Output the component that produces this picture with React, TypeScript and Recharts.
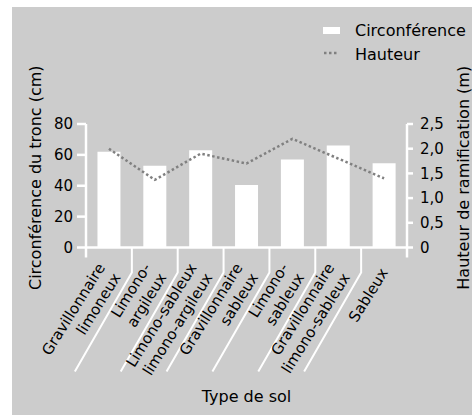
import React from 'react';
import { ComposedChart, Bar, Line, XAxis, YAxis, Legend, Label } from 'recharts';

const categories = [
  'Gravillonnaire\nlimoneux',
  'Limono-\nargileux',
  'Limono-sableux\nlimono-argileux',
  'Gravillonnaire\nsableux',
  'Limono-\nsableux',
  'Gravillonnaire\nlimono-sableux',
  'Sableux',
];
const circonference = [62, 53, 63, 40.5, 57, 66, 54.5];
const hauteur = [2.0, 1.37, 1.9, 1.7, 2.2, 1.8, 1.4];
const leftTicks = [0, 20, 40, 60, 80];
const rightTicks = [0, 0.5, 1, 1.5, 2, 2.5];

const data = categories.map((c, i) => ({ sol: c, circ: circonference[i], haut: hauteur[i] }));

const FONT = 'DejaVu Sans';
const WHITE = '#ffffff';

function CategoryTick(props: any) {
  const { x, y, payload, index, visibleTicksCount, width } = props;
  const half = payload && payload.offset ? payload.offset : width / visibleTicksCount / 2;
  const lines = String(payload.value).split('\n');
  const bx = x - half;
  const L = 18.5;
  const ay = y + 22;
  const first = -((lines.length - 1) / 2) * L + 5.25;
  return (
    <g>
      {index === 0 ? (
        <line x1={bx} y1={y} x2={bx} y2={y + 10} stroke={WHITE} strokeWidth={2.5} />
      ) : (
        <polyline
          points={`${bx},${y} ${bx},${y + 25} ${bx - 57},${y + 124}`}
          fill="none"
          stroke={WHITE}
          strokeWidth={2}
        />
      )}
      {index === visibleTicksCount - 1 && (
        <line x1={x + half} y1={y} x2={x + half} y2={y + 10} stroke={WHITE} strokeWidth={2.5} />
      )}
      <text
        x={x}
        y={ay}
        transform={`rotate(-58 ${x} ${ay})`}
        textAnchor="end"
        fontSize={15}
        fontFamily={FONT}
        fill="#000"
      >
        {lines.map((l, i) => (
          <tspan key={i} x={x} dy={i === 0 ? first : L}>
            {l}
          </tspan>
        ))}
      </text>
    </g>
  );
}

function LegendContent() {
  return (
    <svg width={154} height={50} style={{ display: 'block', overflow: 'visible' }}>
      <rect x={5} y={9} width={17} height={7} fill={WHITE} />
      <text x={37} y={18} fontSize={16} fontFamily={FONT} fill="#000">Circonférence</text>
      <line x1={6} y1={35} x2={21} y2={35} stroke="#808080" strokeWidth={2.5} strokeDasharray="2.5 2.5" />
      <text x={37} y={42} fontSize={16} fontFamily={FONT} fill="#000">Hauteur</text>
    </svg>
  );
}

const fmtRight = (v: number) => (v === 0 ? '0' : v.toFixed(1).replace('.', ','));

export default function App() {
  return (
    <div style={{ position: 'absolute', left: 0, top: 0, width: 472, height: 415, overflow: 'hidden' }}>
      <div style={{ position: 'absolute', left: 12, top: 7, width: 460, height: 408, background: '#cccccc' }} />
      <div style={{ position: 'absolute', left: 0, top: 0 }}>
        <ComposedChart
          width={472}
          height={415}
          data={data}
          margin={{ top: 124, right: 0, bottom: 0, left: 0 }}
          barCategoryGap="25%"
        >
          <XAxis
            dataKey="sol"
            interval={0}
            height={167.5}
            tickSize={0}
            tickMargin={0}
            tickLine={false}
            axisLine={{ stroke: WHITE, strokeWidth: 2.5 }}
            tick={<CategoryTick />}
          >
            <Label
              content={(p: any) => {
                const vb = p.viewBox || { x: 86, y: 247.5, width: 321 };
                return (
                  <text x={vb.x + vb.width / 2} y={vb.y + 154.5} textAnchor="middle" fontSize={16} fontFamily={FONT} fill="#000">
                    Type de sol
                  </text>
                );
              }}
            />
          </XAxis>
          <YAxis
            yAxisId="left"
            orientation="left"
            width={86}
            domain={[0, 80]}
            ticks={leftTicks}
            interval={0}
            tickSize={9}
            tickMargin={4}
            tick={{ fill: '#000', fontSize: 15, fontFamily: FONT }}
            tickLine={{ stroke: WHITE, strokeWidth: 2.5 }}
            axisLine={{ stroke: WHITE, strokeWidth: 2.5 }}
          >
            <Label
              content={(p: any) => {
                const vb = p.viewBox || { x: 0, y: 124, width: 86, height: 123.5 };
                const cx = vb.x + 35;
                const cy = vb.y + vb.height / 2 - 8;
                return (
                  <text x={cx} y={cy} transform={`rotate(-90 ${cx} ${cy})`} textAnchor="middle" dominantBaseline="central" fontSize={16} fontFamily={FONT} fill="#000">
                    Circonférence du tronc (cm)
                  </text>
                );
              }}
            />
          </YAxis>
          <YAxis
            yAxisId="right"
            orientation="right"
            width={65}
            domain={[0, 2.5]}
            ticks={rightTicks}
            interval={0}
            tickSize={6}
            tickMargin={7}
            tickFormatter={fmtRight}
            tick={{ fill: '#000', fontSize: 15, fontFamily: FONT }}
            tickLine={{ stroke: WHITE, strokeWidth: 2.5 }}
            axisLine={{ stroke: WHITE, strokeWidth: 2.5 }}
          >
            <Label
              content={(p: any) => {
                const vb = p.viewBox || { x: 407, y: 124, width: 65, height: 123.5 };
                const cx = vb.x + 56;
                const cy = vb.y + vb.height / 2 - 8;
                return (
                  <text x={cx} y={cy} transform={`rotate(-90 ${cx} ${cy})`} textAnchor="middle" dominantBaseline="central" fontSize={16} fontFamily={FONT} fill="#000">
                    Hauteur de ramification (m)
                  </text>
                );
              }}
            />
          </YAxis>
          <Legend
            layout="horizontal"
            verticalAlign="middle"
            align="center"
            width={154}
            height={50}
            wrapperStyle={{ left: 318, top: 18, width: 154, height: 50 }}
            content={<LegendContent />}
          />
          <Bar yAxisId="left" dataKey="circ" name="Circonférence" fill={WHITE} isAnimationActive={false} />
          <Line
            yAxisId="right"
            dataKey="haut"
            name="Hauteur"
            type="linear"
            stroke="#808080"
            strokeWidth={2.5}
            strokeDasharray="2.5 2.5"
            dot={false}
            activeDot={false}
            isAnimationActive={false}
          />
        </ComposedChart>
      </div>
    </div>
  );
}
